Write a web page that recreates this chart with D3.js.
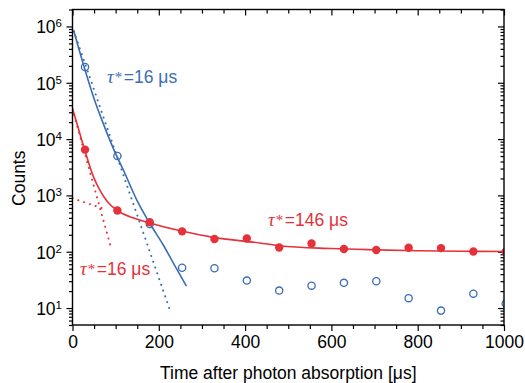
<!DOCTYPE html>
<html>
<head>
<meta charset="utf-8">
<script src="https://cdn.jsdelivr.net/npm/d3@7"></script>
<style>
  body { margin: 0; background: #fff; }
  svg { display: block; font-family: "Liberation Sans", Arial, sans-serif; }
</style>
</head>
<body>
<svg id="chart" width="525" height="383"></svg>
<script>
// measured points (time in µs, counts)
const timeUs = [29, 104, 179, 254, 329, 404, 479, 554, 629, 704, 779, 854, 929, 1004];
const blueCounts = [1.9e5, 5.0e3, 310, 52, 51, 30.7, 20.4, 25, 28, 30, 15, 9, 18, 12];
const redCounts = [6.5e3, 540, 335, 230, 168, 172, 119, 140, 112, 107, 118, 116, 101, 100];

// fitted curves
const blueFitT = [3, 27, 50, 70, 94, 120, 150, 179, 210, 241, 264];
const blueFitV = [8.3e5, 1.9e5, 5.2e4, 2.0e4, 7.0e3, 2.6e3, 800, 320, 133, 50, 24.5];
const blueExpT = [3, 228];
const blueExpV = [8.3e5, 8.2];

const redFitT = [0, 13, 28, 48, 63, 80, 103, 140, 179, 250, 330, 434, 479, 600, 705, 800, 900, 1000];
const redFitV = [3.5e4, 1.6e4, 6.5e3, 2.2e3, 1.25e3, 790, 545, 400, 325, 235, 178, 143, 128, 114, 108, 104, 102, 101];
const redFastT = [0, 88];
const redFastV = [3.4e4, 128];
const redSlowT = [0, 20, 40, 60, 80];
const redSlowV = [890, 790, 700, 625, 555];

const xMajor = [0, 200, 400, 600, 800, 1000];
const yMajorExp = [1, 2, 3, 4, 5, 6];

const blue = "#3a6db5", red = "#e5313a";

const svg = d3.select("#chart");
const mLeft = 72.5, mRight = 504, mTop = 9.5, mBottom = 325;

const x = d3.scaleLinear().domain([0, 1000]).range([mLeft, mRight]);
const y = d3.scaleLog().domain([5, 2e6]).range([mBottom, mTop]);

const xMinor = d3.range(0, 1001, 50).filter(v => v % 200 !== 0);
const yMinor = [];
for (let e = 0; e <= 6; e++) {
  for (let m = 2; m <= 9; m++) {
    const v = m * Math.pow(10, e);
    if (v >= 5 && v <= 2e6) yMinor.push(v);
  }
}
const yMajor = yMajorExp.map(e => Math.pow(10, e));

function styleAxis(g) {
  g.select(".domain").remove();
  g.selectAll("line").attr("stroke", "#000").attr("stroke-width", 1.2);
}

// bottom axis, ticks outward
svg.append("g").attr("transform", `translate(0,${mBottom})`)
  .call(d3.axisBottom(x).tickValues(xMinor).tickSize(4).tickFormat(""))
  .call(styleAxis);
svg.append("g").attr("transform", `translate(0,${mBottom})`)
  .call(d3.axisBottom(x).tickValues(xMajor).tickSize(6).tickPadding(5).tickFormat(d3.format("d")))
  .call(styleAxis)
  .selectAll("text").attr("font-size", 17.5).attr("fill", "#000")
  .attr("font-family", "Liberation Sans, Arial, sans-serif");

// top axis, ticks pointing down
svg.append("g").attr("transform", `translate(0,${mTop})`)
  .call(d3.axisTop(x).tickValues(xMinor).tickSize(-4).tickFormat(""))
  .call(styleAxis);
svg.append("g").attr("transform", `translate(0,${mTop})`)
  .call(d3.axisTop(x).tickValues(xMajor).tickSize(-6).tickFormat(""))
  .call(styleAxis);

// left axis, ticks outward
svg.append("g").attr("transform", `translate(${mLeft},0)`)
  .call(d3.axisLeft(y).tickValues(yMinor).tickSize(3.5).tickFormat(""))
  .call(styleAxis);
const yl = svg.append("g").attr("transform", `translate(${mLeft},0)`)
  .call(d3.axisLeft(y).tickValues(yMajor).tickSize(6).tickFormat(""))
  .call(styleAxis);
yl.selectAll(".tick").each(function (d) {
  const t = d3.select(this).append("text")
    .attr("x", -10.5).attr("y", 6.5)
    .attr("text-anchor", "end").attr("fill", "#000")
    .attr("font-family", "Liberation Sans, Arial, sans-serif")
    .attr("font-size", 17.5);
  t.append("tspan").text("10");
  t.append("tspan").attr("dy", -6).attr("font-size", 11.5).text(Math.round(Math.log10(d)));
});

// right axis, ticks inward
svg.append("g").attr("transform", `translate(${mRight},0)`)
  .call(d3.axisRight(y).tickValues(yMinor).tickSize(-3.5).tickFormat(""))
  .call(styleAxis);
svg.append("g").attr("transform", `translate(${mRight},0)`)
  .call(d3.axisRight(y).tickValues(yMajor).tickSize(-6).tickFormat(""))
  .call(styleAxis);

// plot clip
svg.append("clipPath").attr("id", "clip")
  .append("rect").attr("x", mLeft).attr("y", mTop)
  .attr("width", mRight - mLeft).attr("height", mBottom - mTop);

const plot = svg.append("g").attr("clip-path", "url(#clip)");

const line = d3.line().x(d => x(d[0])).y(d => y(d[1])).curve(d3.curveMonotoneX);
const zip = (a, b) => a.map((v, i) => [v, b[i]]);

function drawLine(t, v, color, dotted) {
  plot.append("path").datum(zip(t, v))
    .attr("fill", "none").attr("stroke", color)
    .attr("stroke-width", dotted ? 2 : 1.6)
    .attr("stroke-linecap", dotted ? "round" : "butt")
    .attr("stroke-dasharray", dotted ? "0.1,6" : null)
    .attr("d", line);
}

drawLine(blueExpT, blueExpV, blue, true);
drawLine(redFastT, redFastV, red, true);
drawLine(redSlowT, redSlowV, red, true);
drawLine(blueFitT, blueFitV, blue, false);
drawLine(redFitT, redFitV, red, false);

plot.selectAll("circle.blue").data(zip(timeUs, blueCounts)).join("circle")
  .attr("class", "blue")
  .attr("cx", d => x(d[0])).attr("cy", d => y(d[1])).attr("r", 3.6)
  .attr("fill", "none").attr("stroke", blue).attr("stroke-width", 1.3);

plot.selectAll("circle.red").data(zip(timeUs, redCounts)).join("circle")
  .attr("class", "red")
  .attr("cx", d => x(d[0])).attr("cy", d => y(d[1])).attr("r", 4.2)
  .attr("fill", red);

// frame
svg.append("rect").attr("x", mLeft).attr("y", mTop)
  .attr("width", mRight - mLeft).attr("height", mBottom - mTop)
  .attr("fill", "none").attr("stroke", "#000").attr("stroke-width", 1.4);

// annotations
function tauLabel(px, py, color, rest) {
  const t = svg.append("text").attr("x", px).attr("y", py)
    .attr("fill", color).attr("font-size", 17.5);
  t.append("tspan").attr("font-family", "Liberation Serif, serif")
    .attr("font-style", "italic").attr("font-size", 19).text("τ");
  t.append("tspan").attr("font-family", "Liberation Serif, serif")
    .attr("font-size", 15).attr("dx", 1).attr("dy", -1.5).text("*");
  t.append("tspan").attr("dx", 1.5).attr("dy", 1.5).text(rest);
}
tauLabel(107, 83, blue, "=16 μs");
tauLabel(268, 226, red, "=146 μs");
tauLabel(80, 275, red, "=16 μs");

// axis titles
svg.append("text")
  .attr("x", (mLeft + mRight) / 2).attr("y", 379)
  .attr("text-anchor", "middle").attr("font-size", 17.5).attr("fill", "#000")
  .text("Time after photon absorption [μs]");

svg.append("text")
  .attr("transform", `translate(25,${(mTop + mBottom) / 2 + 11}) rotate(-90)`)
  .attr("text-anchor", "middle").attr("font-size", 17.5).attr("fill", "#000")
  .text("Counts");
</script>
</body>
</html>
